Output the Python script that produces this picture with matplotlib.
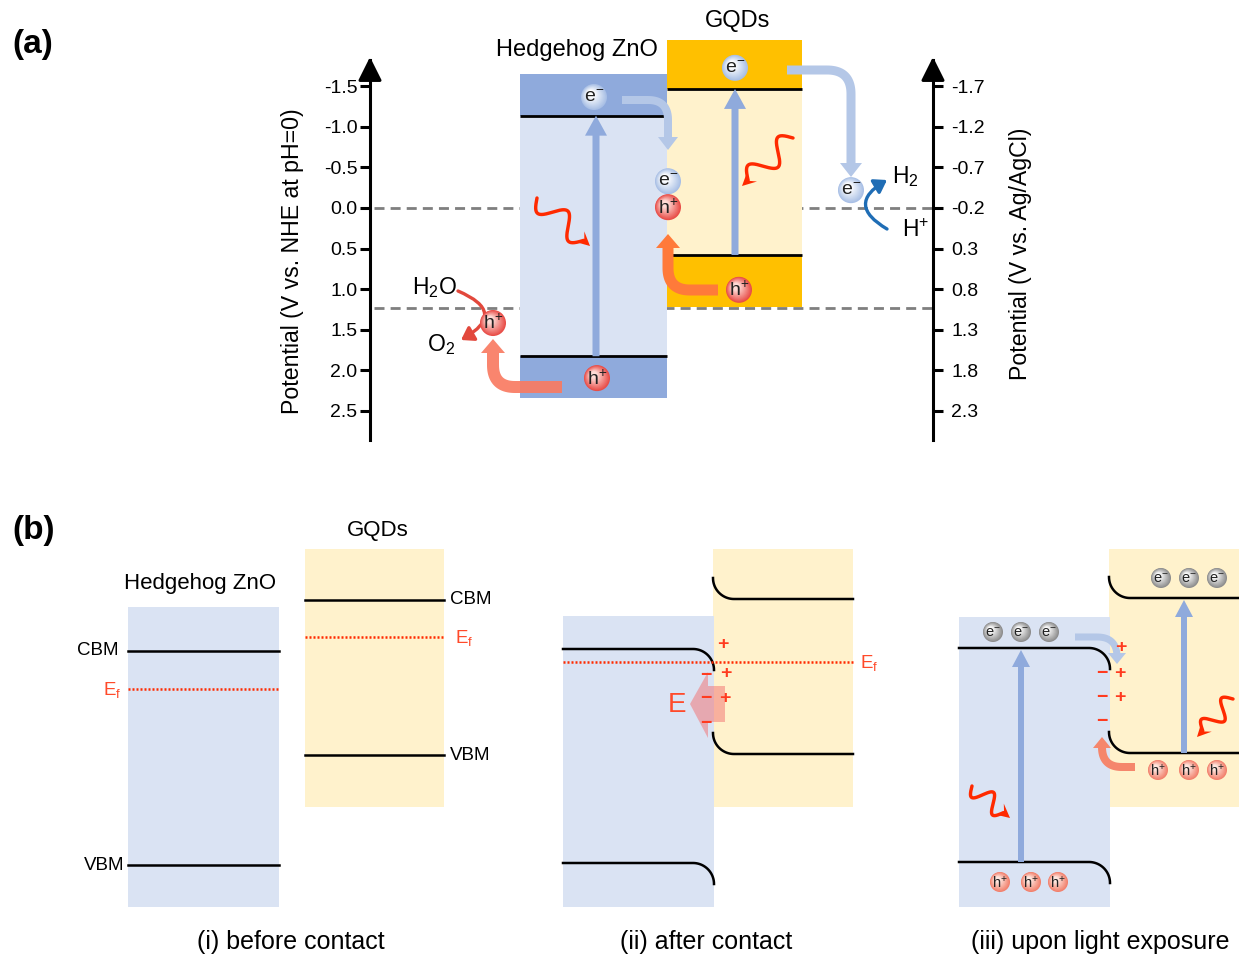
import numpy as np
import matplotlib
matplotlib.use('Agg')
import matplotlib.pyplot as plt
from matplotlib.patches import Circle, Polygon, FancyArrowPatch

plt.rcParams['font.family'] = ['Liberation Sans', 'DejaVu Sans']
plt.rcParams['mathtext.default'] = 'regular'
plt.rcParams['axes.unicode_minus'] = False

# ---------------- (a) band positions, V vs. NHE ----------------
materials = ['Hedgehog ZnO', 'GQDs']
box_left = [520, 667]          # px
box_width = [147, 135]
band_top = [-1.66, -2.07]
band_bottom = [2.35, 1.22]
cbm_nhe = [-1.14, -1.47]
vbm_nhe = [1.83, 0.58]
redox_nhe = [0.0, 1.23]        # H+/H2 and O2/H2O
nhe_ticks = [-1.5, -1.0, -0.5, 0.0, 0.5, 1.0, 1.5, 2.0, 2.5]
agcl_ticks = [-1.7, -1.2, -0.7, -0.2, 0.3, 0.8, 1.3, 1.8, 2.3]
AGCL_SHIFT = -0.2
V_LIM = (2.864, -1.827)

# charge carriers on (a): kind, x (px), potential (V)
carriers_a = [('e', 594, -1.37), ('e', 735, -1.73), ('e', 668, -0.33),
              ('h', 668, -0.01), ('h', 739, 1.01), ('h', 597, 2.10),
              ('h', 493, 1.42), ('e', 851, -0.22)]

# ---------------- (b) schematic levels (px) ----------------
stages = ['(i) before contact', '(ii) after contact', '(iii) upon light exposure']
stage_x = [291, 706, 1100]
zno_x = [128, 563, 959]
gqd_x = [305, 713, 1109]
zno_w = 151
gqd_w = [139, 140, 140]
zno_top = [607, 616, 617]
zno_cb = [651, 649, 648]
zno_vb = [865, 863, 862]
gqd_cb = [600, 599, 598]
gqd_vb = [755, 754, 753]
zno_ef, gqd_ef, eq_ef = 689, 637, 662
BOT_ZNO, TOP_GQD, BOT_GQD = 907, 549, 807

ZNO_L, ZNO_D = '#DAE3F3', '#8FAADC'
GQD_L, GQD_D = '#FFF2CC', '#FFC000'
LBLUE = '#B4C7E7'
RED = '#FF2A00'
SIGN = '#FF3B1F'

W, H = 1239, 955
fig = plt.figure(figsize=(W / 100, H / 100), dpi=100)

ax_a = fig.add_axes([370 / W, 1 - 440 / H, (933 - 370) / W, 380 / H])
ax_a.set_xlim(370, 933)
ax_a.set_ylim(*V_LIM)
ax_a.patch.set_visible(False)
for s in ['top', 'bottom', 'right']:
    ax_a.spines[s].set_visible(False)
ax_a.spines['left'].set_linewidth(2.2)
ax_a.set_xticks([])
ax_a.set_yticks(nhe_ticks)
ax_a.set_yticklabels([f'{t:.1f}' for t in nhe_ticks])
ax_a.tick_params(axis='y', direction='out', length=7, width=2.2, labelsize=14, pad=2)

tw = ax_a.twinx()
tw.set_ylim(V_LIM[0] + AGCL_SHIFT, V_LIM[1] + AGCL_SHIFT)
for s in ['top', 'bottom', 'left']:
    tw.spines[s].set_visible(False)
tw.spines['right'].set_linewidth(2.2)
tw.set_yticks(agcl_ticks)
tw.set_yticklabels([f'{t:.1f}' for t in agcl_ticks])
tw.tick_params(axis='y', direction='out', length=7, width=2.2, labelsize=14, pad=6)

# boxes and band edges
lights, darks = [ZNO_L, GQD_L], [ZNO_D, GQD_D]
for i in range(2):
    l, w = box_left[i], box_width[i]
    ax_a.bar(l, band_bottom[i] - band_top[i], bottom=band_top[i], width=w,
             align='edge', color=lights[i], zorder=2, clip_on=False)
    ax_a.bar(l, cbm_nhe[i] - band_top[i], bottom=band_top[i], width=w,
             align='edge', color=darks[i], zorder=2, clip_on=False)
    ax_a.bar(l, band_bottom[i] - vbm_nhe[i], bottom=vbm_nhe[i], width=w,
             align='edge', color=darks[i], zorder=2, clip_on=False)
    ax_a.hlines([cbm_nhe[i], vbm_nhe[i]], l, l + w, colors='k', lw=2, zorder=3)
ax_a.hlines(redox_nhe, 374, 933, colors='#7F7F7F', lw=2,
            linestyles=(0, (3.6, 2.2)), zorder=1)

# overlay in pixel coordinates
ax_b = fig.add_axes([0, 0, 1, 1])
ax_b.set_xlim(0, W)
ax_b.set_ylim(H, 0)
ax_b.axis('off')
ax_b.patch.set_visible(False)


def a_px(x, v):
    return ax_b.transData.inverted().transform(ax_a.transData.transform((x, v)))


def carrier(x, y, kind, r=13, fs=14):
    cols = {'e': ((0.66, 0.75, 0.90), (1, 1, 1), 'e$^{-}$'),
            'h': ((0.91, 0.30, 0.28), (1, 0.86, 0.84), 'h$^{+}$'),
            'g': ((0.55, 0.55, 0.55), (0.97, 0.97, 0.97), 'e$^{-}$'),
            's': ((0.95, 0.50, 0.42), (1, 0.90, 0.87), 'h$^{+}$')}
    edge, inner, lab = cols[kind]
    edge, inner = np.array(edge), np.array(inner)
    n = 14
    for k in range(n):
        f = k / (n - 1)
        ax_b.add_patch(Circle((x - 0.25 * r * f, y - 0.25 * r * f), r * (1 - 0.72 * f),
                              color=edge * (1 - f) + inner * f, lw=0, zorder=7))
    ax_b.text(x, y + 0.5, lab, ha='center', va='center', fontsize=fs, color='#222222', zorder=8)


def arrow_path(pts, width, head_w, head_l, color, alpha=1.0, z=5):
    pts = np.asarray(pts, float)
    tip = pts[-1]
    u = tip - pts[-2]
    u /= np.hypot(*u)
    base = tip - u * head_l
    c = np.vstack([pts[:-1], base])
    t = np.gradient(c, axis=0)
    t /= np.hypot(t[:, 0], t[:, 1])[:, None]
    nrm = np.column_stack([-t[:, 1], t[:, 0]])
    n2 = np.array([-u[1], u[0]])
    left = c + nrm * width / 2
    right = c - nrm * width / 2
    poly = np.vstack([left, base + n2 * head_w / 2, tip, base - n2 * head_w / 2, right[::-1]])
    ax_b.add_patch(Polygon(poly, closed=True, color=color, lw=0, alpha=alpha, zorder=z))


def elbow(start, corner, end, width, head_w, head_l, color, r=20, alpha=1.0, z=5):
    start, corner, end = (np.asarray(p, float) for p in (start, corner, end))
    u1 = (corner - start) / np.hypot(*(corner - start))
    u2 = (end - corner) / np.hypot(*(end - corner))
    a, b = corner - u1 * r, corner + u2 * r
    t = np.linspace(0, 1, 25)[:, None]
    bez = (1 - t) ** 2 * a + 2 * (1 - t) * t * corner + t ** 2 * b
    arrow_path(np.vstack([start, bez, end]), width, head_w, head_l, color, alpha, z)


def photon(p0, p1, amp=11, cycles=1.5, lw=3.4, head=14):
    p0, p1 = np.asarray(p0, float), np.asarray(p1, float)
    d = p1 - p0
    L = np.hypot(*d)
    u = d / L
    n = np.array([-u[1], u[0]])
    Lw = L - head * 0.6
    s = np.linspace(0, Lw, 200)
    off = amp * np.sin(2 * np.pi * cycles * s / Lw)
    pts = p0 + np.outer(s, u) + np.outer(off, n)
    ax_b.plot(pts[:, 0], pts[:, 1], color=RED, lw=lw * 0.72, solid_capstyle='round', zorder=6)
    base = p1 - u * head
    ax_b.add_patch(Polygon([p1, base + n * head * 0.5, p1 - u * head * 0.55, base - n * head * 0.5],
                           color=RED, lw=0, zorder=6))


def curved(p0, p1, rad, color, lw=2.4):
    ax_b.add_patch(FancyArrowPatch(p0, p1, connectionstyle=f'arc3,rad={rad}',
                                   arrowstyle='-|>,head_length=0.45,head_width=0.3',
                                   mutation_scale=16, color=color, lw=lw,
                                   shrinkA=0, shrinkB=0, zorder=6))


# axis arrowheads
for xa in (370, 933):
    ax_b.add_patch(FancyArrowPatch((xa, 80), (xa, 57), arrowstyle='-|>,head_length=0.9,head_width=0.45',
                                   mutation_scale=16, color='k', lw=2.2, shrinkA=0, shrinkB=0, zorder=9))

ax_b.text(293, 261, 'Potential (V vs. NHE at pH=0)', rotation=90, ha='center', va='center', fontsize=16.7)
ax_b.text(1021, 254, 'Potential (V vs. Ag/AgCl)', rotation=90, ha='center', va='center', fontsize=16.7)

# vertical excitation arrows in (a)
for i, xv in enumerate([596, 735]):
    p_vb, p_cb = a_px(xv, vbm_nhe[i]), a_px(xv, cbm_nhe[i])
    arrow_path([p_vb, p_cb], 7, 22, 20, ZNO_D, z=4)

# charge-transfer arrows in (a)
elbow((622, 100), (668, 100), (668, 150), 8, 20, 13, LBLUE, r=20)
elbow((787, 70), (851, 70), (851, 177), 9, 22, 14, LBLUE, r=24)
elbow((718, 290), (668, 290), (668, 234), 11, 24, 14, '#FF7A3A', r=22)
elbow((562, 387), (493, 387), (493, 339), 12, 24, 14, '#F97B62', r=22, alpha=0.92)
photon((537, 198), (590, 246))
photon((793, 138), (742, 186))
curved((458, 291), (461, 340), -1.0, '#E2483C')
curved((887, 229), (887, 180), -0.85, '#1F6DB5')

for kind, x, v in carriers_a:
    px, py = a_px(x, v)
    carrier(px, py, kind)

ax_b.text(577, 50, 'Hedgehog ZnO', ha='center', va='center', fontsize=17)
ax_b.text(738, 21, 'GQDs', ha='center', va='center', fontsize=17)
ax_b.text(435, 288, 'H$_2$O', ha='center', va='center', fontsize=16.5)
ax_b.text(441, 345, 'O$_2$', ha='center', va='center', fontsize=16.5)
ax_b.text(905, 177, 'H$_2$', ha='center', va='center', fontsize=16.5)
ax_b.text(916, 230, 'H$^{+}$', ha='center', va='center', fontsize=16.5)
ax_b.text(12, 45, '(a)', ha='left', va='center', fontsize=24, fontweight='bold')
ax_b.text(12, 530, '(b)', ha='left', va='center', fontsize=24, fontweight='bold')

# ---------------- (b) ----------------
R = 21


def band_zno(x0, x1, y, bend):
    if not bend:
        ax_b.plot([x0, x1], [y, y], color='k', lw=1.8, zorder=4)
        return
    t = np.linspace(0, np.pi / 2, 30)
    xs = np.concatenate([[x0], x1 - R + R * np.sin(t)])
    ys = np.concatenate([[y], y + R - R * np.cos(t)])
    ax_b.plot(xs, ys, color='k', lw=1.8, zorder=4)


def band_gqd(x0, x1, y, bend):
    if not bend:
        ax_b.plot([x0, x1], [y, y], color='k', lw=1.8, zorder=4)
        return
    t = np.linspace(0, np.pi / 2, 30)
    xs = np.concatenate([x0 + R * (1 - np.cos(t)), [x1]])
    ys = np.concatenate([y - R * (1 - np.sin(t)), [y]])
    ax_b.plot(xs, ys, color='k', lw=1.8, zorder=4)


for k in range(3):
    bend = k > 0
    ax_b.bar(zno_x[k], BOT_ZNO - zno_top[k], bottom=zno_top[k], width=zno_w,
             align='edge', color=ZNO_L, zorder=1)
    ax_b.bar(gqd_x[k], BOT_GQD - TOP_GQD, bottom=TOP_GQD, width=gqd_w[k],
             align='edge', color=GQD_L, zorder=1 if k == 0 else 0.5)
    band_zno(zno_x[k], zno_x[k] + zno_w, zno_cb[k], bend)
    band_zno(zno_x[k], zno_x[k] + zno_w, zno_vb[k], bend)
    band_gqd(gqd_x[k], gqd_x[k] + gqd_w[k], gqd_cb[k], bend)
    band_gqd(gqd_x[k], gqd_x[k] + gqd_w[k], gqd_vb[k], bend)
    ax_b.text(stage_x[k], 942, stages[k], ha='center', va='center', fontsize=18)

# (i) labels and Fermi levels
ax_b.plot([zno_x[0], zno_x[0] + zno_w], [zno_ef, zno_ef], color=RED, lw=1.8,
          linestyle=(0, (0.8, 0.8)), zorder=4)
ax_b.plot([gqd_x[0], gqd_x[0] + gqd_w[0]], [gqd_ef, gqd_ef], color=RED, lw=1.8,
          linestyle=(0, (0.8, 0.8)), zorder=4)
ax_b.text(200, 583, 'Hedgehog ZnO', ha='center', va='center', fontsize=16)
ax_b.text(378, 530, 'GQDs', ha='center', va='center', fontsize=16)
ax_b.text(119, 650, 'CBM', ha='right', va='center', fontsize=13.5)
ax_b.text(124, 865, 'VBM', ha='right', va='center', fontsize=13.5)
ax_b.text(121, 690, 'E$_f$', ha='right', va='center', fontsize=13.5, color='#FF4A2A')
ax_b.text(450, 599, 'CBM', ha='left', va='center', fontsize=13.5)
ax_b.text(450, 755, 'VBM', ha='left', va='center', fontsize=13.5)
ax_b.text(455, 638, 'E$_f$', ha='left', va='center', fontsize=13.5, color='#FF4A2A')

# (ii) equilibrium Fermi level and built-in field
ax_b.plot([zno_x[1], gqd_x[1] + gqd_w[1]], [eq_ef, eq_ef], color=RED, lw=1.8,
          linestyle=(0, (0.8, 0.8)), zorder=4)
ax_b.text(860, 663, 'E$_f$', ha='left', va='center', fontsize=13.5, color='#FF4A2A')
ax_b.add_patch(Polygon([(725, 686), (708, 686), (708, 672), (690, 704), (708, 738),
                        (708, 722), (725, 722)], closed=True, color='#F36F6F', alpha=0.5,
                       lw=0, zorder=3))
ax_b.text(677, 705, 'E', ha='center', va='center', fontsize=20, color='#FF4A2A', zorder=5)

plus_ii = [(723, 644), (726, 673), (725, 698)]
minus_ii = [(706, 675), (706, 698), (706, 723)]
plus_iii = [(1121, 647), (1120, 673), (1120, 697)]
minus_iii = [(1102, 673), (1102, 697), (1102, 721)]
for x, y in plus_ii + plus_iii:
    ax_b.text(x, y, '+', ha='center', va='center', fontsize=14, fontweight='bold', color=SIGN, zorder=6)
for x, y in minus_ii + minus_iii:
    ax_b.text(x, y, '\u2212', ha='center', va='center', fontsize=14, fontweight='bold', color=SIGN, zorder=6)

# (iii) light exposure
arrow_path([(1021, zno_vb[2]), (1021, zno_cb[2] + 2)], 6, 18, 17, ZNO_D, z=4)
arrow_path([(1184, gqd_vb[2]), (1184, gqd_cb[2] + 2)], 6, 18, 17, ZNO_D, z=4)
elbow((1075, 637), (1117, 637), (1117, 664), 7, 18, 11, LBLUE, r=20)
elbow((1135, 767), (1102, 767), (1102, 737), 8, 18, 11, '#F5866C', r=20)
photon((972, 786), (1010, 818), amp=9)
photon((1233, 699), (1197, 737), amp=9)

for x in (993, 1021, 1049):
    carrier(x, zno_cb[2] - 16, 'g', r=10, fs=10.5)
for x in (1161, 1189, 1217):
    carrier(x, gqd_cb[2] - 20, 'g', r=10, fs=10.5)
for x in (1000, 1031, 1058):
    carrier(x, zno_vb[2] + 20, 's', r=10, fs=10.5)
for x in (1158, 1189, 1217):
    carrier(x, gqd_vb[2] + 17, 's', r=10, fs=10.5)

fig.savefig('out.png', dpi=100)
